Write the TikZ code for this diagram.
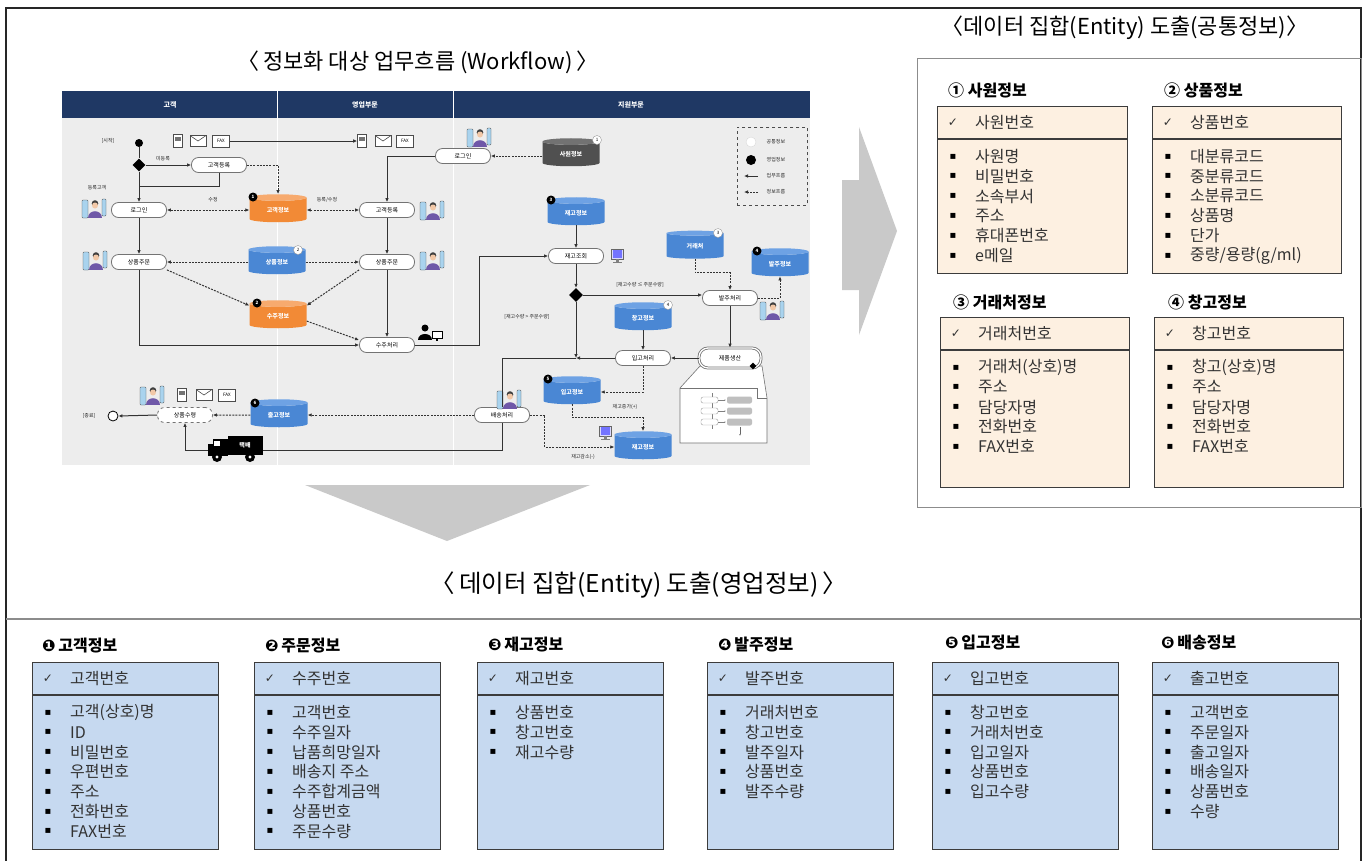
\documentclass[tikz,border=0pt]{standalone}
\usepackage{fontspec}
\setmainfont{Noto Sans CJK KR}
\newfontfamily\symfont{DejaVu Sans}
\usetikzlibrary{shapes.geometric,arrows.meta,calc}

\definecolor{navy}{HTML}{1F3864}
\definecolor{wfbg}{HTML}{EDEDED}
\definecolor{peach}{HTML}{FDF0E1}
\definecolor{skyfill}{HTML}{C6D9F0}
\definecolor{boxline}{HTML}{3C3C3C}
\definecolor{arrowgray}{HTML}{C9C9C9}
\definecolor{dbblue}{HTML}{4A87D4}
\definecolor{dbbluetop}{HTML}{6EA2E4}
\definecolor{dborange}{HTML}{F28A36}
\definecolor{dborangetop}{HTML}{F7AA6E}
\definecolor{dbgray}{HTML}{505050}
\definecolor{dbgraytop}{HTML}{727272}
\definecolor{skin}{HTML}{F1C8A8}
\definecolor{shirt}{HTML}{6F58A8}
\definecolor{tabcol}{HTML}{A9D3EE}
\definecolor{itemtext}{HTML}{333333}

\newcommand\wffont{\fontsize{6}{7}\selectfont}
\newcommand\wfsmall{\fontsize{5}{6}\selectfont}
\newcommand\entlabelfont{\fontsize{16}{19}\selectfont\bfseries}
\newcommand\entitemfont{\fontsize{16}{19}\selectfont}

\tikzset{
  wire/.style={draw=black!80, line width=1pt, >={Latex[length=4pt,width=3.6pt]}},
  dashwire/.style={wire, dash pattern=on 2pt off 1.2pt},
  proc/.style={draw=black!55, fill=white, rounded corners=7pt, minimum width=55pt,
    minimum height=15pt, inner sep=0pt, font=\wffont, line width=0.8pt},
  db/.style={cylinder, shape border rotate=90, aspect=0.3, minimum width=57pt,
    minimum height=28pt, inner sep=0pt, cylinder uses custom fill, text=white,
    font=\wffont\bfseries},
  dbBlue/.style={db, cylinder body fill=dbblue, cylinder end fill=dbbluetop},
  dbOrange/.style={db, cylinder body fill=dborange, cylinder end fill=dborangetop},
  dbGray/.style={db, cylinder body fill=dbgray, cylinder end fill=dbgraytop},
  badgeB/.style={circle, fill=black, text=white, inner sep=0pt, minimum size=9pt,
    font=\fontsize{4.5}{5}\selectfont\bfseries},
  badgeW/.style={circle, fill=white, draw=black!40, text=black, inner sep=0pt,
    minimum size=9pt, font=\fontsize{4.5}{5}\selectfont},
  wflabel/.style={font=\wfsmall, inner sep=0.5pt, text=black!85},
  hdrtxt/.style={font=\fontsize{7}{8}\selectfont\bfseries, text=white},
  phone/.style={draw=black!70, fill=white, minimum width=9pt, minimum height=13pt,
    inner sep=0pt, line width=0.6pt,
    path picture={\fill[black!55] ([shift={(1.8pt,-2pt)}]path picture bounding box.north west)
      rectangle ([shift={(-1.8pt,-6pt)}]path picture bounding box.north east);}},
  mail/.style={draw=black!70, fill=white, minimum width=16pt, minimum height=11pt,
    inner sep=0pt, line width=0.6pt,
    path picture={\draw[black!70, line width=0.6pt] (path picture bounding box.north west)
      -- (path picture bounding box.center) -- (path picture bounding box.north east);}},
  fax/.style={draw=black!70, fill=white, minimum width=17pt, minimum height=12pt,
    inner sep=0pt, line width=0.6pt, font=\fontsize{4.5}{5}\selectfont},
  entbox/.style={draw=boxline, line width=1.3pt, inner sep=0pt},
  entline/.style={draw=boxline, line width=1.3pt},
  entcheck/.style={font=\symfont\fontsize{12}{14}\selectfont, inner sep=0pt, text=itemtext},
  entbullet/.style={font=\symfont\fontsize{10}{12}\selectfont, inner sep=0pt, text=black},
  entkey/.style={anchor=west, font=\entitemfont, inner sep=0pt, text=itemtext},
  entitem/.style={anchor=west, font=\entitemfont, inner sep=0pt, text=itemtext},
  entlabel/.style={anchor=west, font=\entlabelfont, inner sep=0pt},
  usericon/.pic={
    \draw[black!70, fill=tabcol, line width=0.4pt, rounded corners=0.8pt] (-12,-8) rectangle (-6,10);
    \fill[shirt] (-6,10) .. controls (-6,1) and (8,1) .. (8,10) -- cycle;
    \fill[black!75] (1,-4.5) circle (3.3);
    \fill[skin] (1,-2.5) circle (3);
    \draw[black!70, fill=tabcol, line width=0.4pt, rounded corners=0.8pt] (8,-9) rectangle (12,8);
  },
  pcuser/.pic={
    \fill[black] (-4,-6) circle (3.5);
    \fill[black] (-11,6) .. controls (-11,-2) and (3,-2) .. (3,6) -- cycle;
    \draw[black, line width=0.8pt, fill=white] (3,-3) rectangle (13,4);
    \fill[black] (7,4) rectangle (9,7);
  },
  computer/.pic={
    \draw[black!60, fill=blue!15, line width=0.4pt] (-6,-6) rectangle (6,4);
    \fill[blue!55] (-4.5,-4.6) rectangle (4.5,2.6);
    \fill[black!50] (-1.5,4) rectangle (1.5,6.5);
    \fill[black!50] (-4.5,6.5) rectangle (4.5,7.5);
  },
}

% one entity table: name, left, top, width, height, fill, key attribute, attributes
\newcommand\entitybox[8]{%
  \node[entbox, fill=#6, minimum width=#4pt, minimum height=#5pt, anchor=north west] (#1) at (#2,#3) {};
  \draw[entline] ($(#1.north west)+(0,33)$) -- ($(#1.north east)+(0,33)$);
  \node[entcheck] (#1-chk) at ({#2+16},{#3+16.5}) {✓};
  \node[entkey] (#1-key) at ({#2+38},{#3+16.5}) {#7};
  \foreach \etxt [count=\ei] in {#8} {%
    \node[entbullet] (#1-b\ei) at ({#2+16},{#3+50.5+(\ei-1)*19.8}) {▪};
    \node[entitem] (#1-t\ei) at ({#2+38},{#3+50.5+(\ei-1)*19.8}) {\etxt};
  }%
}

\begin{document}
\begin{tikzpicture}[x=1pt,y=-1pt]
\useasboundingbox (0,0) rectangle (1367,860);
\fill[white] (0,0) rectangle (1367,860);

% outer frame, common-entity panel and section rule
\draw[black!85, line width=1.2pt] (6,862) -- (6,8) -- (1361,8) -- (1361,862);
\draw[black!45, line width=1pt] (917,58) rectangle (1361,507);
\draw[black!45, line width=1.6pt] (6,619) -- (1361,619);

% titles
\node[font=\fontsize{22}{26}\selectfont] (wftitle) at (418,62) {〈\,정보화 대상 업무흐름 (Workflow)\,〉};
\node[font=\fontsize{22}{26}\selectfont] (comtitle) at (1125,28) {〈데이터 집합(Entity) 도출(공통정보)〉};
\node[font=\fontsize{24.5}{28}\selectfont] (saltitle) at (639,585) {〈\,데이터 집합(Entity) 도출(영업정보)\,〉};

% big gray arrows
\fill[arrowgray] (305,485) -- (590,485) -- (447,541) -- cycle;
\fill[arrowgray] (842,180) -- (859,180) -- (859,127) -- (897,231) -- (859,335) -- (859,290) -- (842,290) -- cycle;

% ---------------- workflow ----------------
\fill[navy] (62,91) rectangle (810,118);
\fill[wfbg] (62,118) rectangle (810,465);
\draw[white, line width=0.8pt] (277,91) -- (277,465);
\draw[white, line width=0.8pt] (453,91) -- (453,465);
\node[hdrtxt] (colA) at (170,104.5) {고객};
\node[hdrtxt] (colB) at (365,104.5) {영업부문};
\node[hdrtxt] (colC) at (631,104.5) {지원부문};

% legend
\node[draw=black!70, dashed, line width=0.7pt, fill=wfbg, minimum width=70pt, minimum height=78pt,
  anchor=north west, inner sep=0pt] (legend) at (737,127) {};
\node[circle, fill=white, draw=black!15, minimum size=10pt, inner sep=0pt] (lgA) at (751,142) {};
\node[circle, fill=black, minimum size=10pt, inner sep=0pt] (lgB) at (751,160) {};
\coordinate (lgC1) at (758,176); \coordinate (lgC2) at (744,176);
\coordinate (lgD1) at (758,192); \coordinate (lgD2) at (744,192);
\draw[wire,->] (lgC1) -- (lgC2);
\draw[dashwire,->] (lgD1) -- (lgD2);
\node[wflabel, anchor=west] (lgAt) at (766,142) {공통정보};
\node[wflabel, anchor=west] (lgBt) at (766,160) {영업정보};
\node[wflabel, anchor=west] (lgCt) at (766,176) {업무흐름};
\node[wflabel, anchor=west] (lgDt) at (766,192) {정보흐름};

% callout with the production sub-flow
\draw[black!55, fill=white, line width=0.6pt] (680,388) -- (700,366) -- (762,366) -- (767,398)
  -- (767,443) -- (680,443) -- cycle;
\draw[black!55, line width=0.6pt] (680,388) -- (757,388) -- (757,398) -- (767,398);
\draw[black!50, line width=0.4pt] (712,393) -- (712,429);
\foreach \yy in {400,411,422} {
  \draw[black!40, fill=white, line width=0.4pt, rounded corners=2pt] (701,{\yy-3}) rectangle (718,{\yy+3});
  \fill[black!25, rounded corners=2pt] (727,{\yy-3.5}) rectangle (752,{\yy+3.5});
  \draw[black!50, line width=0.4pt, -{Latex[length=1.5pt]}] (718,\yy) -- (726,\yy);
}
\draw[black!60, line width=0.5pt, -{Latex[length=2pt]}] (740,427) -- (740,436);

% start / end
\node[circle, fill=black, minimum size=8pt, inner sep=0pt] (start) at (139,143) {};
\node[wflabel] (startlbl) at (108,141) {[시작]};
\node[circle, draw=black, line width=0.8pt, fill=white, minimum size=10pt, inner sep=0pt,
  path picture={\fill (path picture bounding box.center) circle (2.8pt);}] (endpt) at (113,416) {};
\node[wflabel] (endlbl) at (89,416) {[종료]};

% decision points
\node[diamond, fill=black, minimum size=13pt, inner sep=0pt] (d1) at (139,165) {};
\node[diamond, fill=black, minimum size=14pt, inner sep=0pt] (d2) at (576,295) {};
\coordinate (join) at (576,358);
\coordinate (merge1) at (139,186);

% channel icons
\node[phone] (ph1) at (178,141) {};
\node[mail] (ml1) at (198,141) {};
\node[fax] (fx1) at (221,141) {FAX};
\node[phone] (ph2) at (362,141) {};
\node[mail] (ml2) at (383,141) {};
\node[fax] (fx2) at (405,141) {FAX};
\node[phone] (ph3) at (182,395) {};
\node[mail] (ml3) at (204,395) {};
\node[fax] (fx3) at (227,395) {FAX};

% process steps
\node[proc] (reg1) at (219,165) {고객등록};
\node[proc] (login1) at (139,210) {로그인};
\node[proc] (reg2) at (387,210) {고객등록};
\node[proc] (order1) at (139,262) {상품주문};
\node[proc] (order2) at (387,262) {상품주문};
\node[proc] (recv) at (387,345) {수주처리};
\node[proc] (login2) at (463,156) {로그인};
\node[proc] (check) at (576,256) {재고조회};
\node[proc] (purch) at (730,298) {발주처리};
\node[proc, double=white, double distance=1.3pt, minimum width=62pt, minimum height=20pt,
  rounded corners=9pt] (make) at (730,358) {제품생산};
\node[diamond, fill=black, minimum size=7pt, inner sep=0pt] (makemark) at (753,366) {};
\node[proc] (inproc) at (643,358) {입고처리};
\node[proc] (ship) at (502,415) {배송처리};
\node[proc, dashed] (take) at (185,415) {상품수령};

% data stores
\node[dbOrange] (cust) at (278,210) {고객정보};
\node[dbBlue] (prod) at (277,262) {상품정보};
\node[dbOrange] (sord) at (278,316) {수주정보};
\node[dbGray] (emp) at (571,154) {사원정보};
\node[dbBlue] (stock1) at (576,213) {재고정보};
\node[dbBlue] (vend) at (695,246) {거래처};
\node[dbBlue] (po) at (780,264) {발주정보};
\node[dbBlue] (whs) at (643,318) {창고정보};
\node[dbBlue] (inb) at (572,392) {입고정보};
\node[dbBlue] (stock2) at (643,447) {재고정보};
\node[dbBlue] (outb) at (279,415) {출고정보};

\node[badgeB] (bcust) at (253,197) {1};
\node[badgeW] (bprod) at (298,250) {2};
\node[badgeB] (bsord) at (257,303) {2};
\node[badgeW] (bemp) at (597,140) {1};
\node[badgeB] (bst1) at (551,200) {3};
\node[badgeW] (bvend) at (718,233) {3};
\node[badgeB] (bpo) at (757,251) {4};
\node[badgeW] (bwhs) at (668,305) {4};
\node[badgeB] (binb) at (548,379) {5};
\node[badgeB] (boutb) at (255,403) {6};

% people and devices
\pic at (94,208) {usericon};
\pic at (95,260) {usericon};
\pic at (432,210) {usericon};
\pic at (432,260) {usericon};
\pic at (479,137) {usericon};
\pic at (509,399) {usericon};
\pic at (772,310) {usericon};
\pic at (152,395) {usericon};
\pic at (429,334) {pcuser};
\pic at (617,255) {computer};
\pic at (605,432) {computer};

% labels
\node[wflabel] (lblnew) at (163,159) {미등록};
\node[wflabel] (lblreg) at (97,188) {등록고객};
\node[wflabel] (lblmod) at (213,200) {수정};
\node[wflabel] (lblregmod) at (327,200) {등록/수정};
\node[wflabel] (lblle) at (640,285) {[재고수량 ≤ 주문수량]};
\node[wflabel] (lblgt) at (527,317) {[재고수량 > 주문수량]};
\node[wflabel] (lblinc) at (625,407) {재고증가(+)};
\node[wflabel] (lbldec) at (583,457) {재고감소(-)};

% business flow
\draw[wire] (start) -- (d1);
\draw[wire,->] (fx1) -- (ph2);
\draw[wire,->] (d1) -- (reg1);
\draw[wire] (reg1.south) |- (merge1);
\draw[wire,->] (d1) -- (login1);
\draw[wire,->] (login2.west) -| (reg2.north);
\draw[wire,->] (login1) -- (order1);
\draw[wire,->] (reg2) -- (order2);
\draw[wire,->] (order1.south) |- (recv.west);
\draw[wire,->] (order2) -- (recv);
\draw[wire,->] (recv.east) -- ++(65,0) |- (check.west);
\draw[wire,->] (stock1) -- (check);
\draw[wire,->] (check) -- (d2);
\draw[wire,->] (d2.east) -- (d2.east -| purch.west);
\draw[wire,->] (d2) -- (join);
\draw[wire,->] (purch) -- (make);
\draw[wire,->] (make) -- (inproc);
\draw[wire,->] (whs) -- (inproc);
\draw[wire,->] (inproc) -- (join);
\draw[wire] (join) -| (ship.north);
\draw[wire,->] (ship.south) -- ++(0,27.5) -| (take.south);
\draw[wire,->] (take.west) -- (endpt.east);

% information flow
\draw[dashwire,->] (reg1.east) -| (cust.north);
\draw[dashwire,<->] (login1.east) -- (login1.east -| cust.west);
\draw[dashwire,<->] (cust.east) -- (cust.east -| reg2.west);
\draw[dashwire,->] (emp.west |- login2.east) -- (login2.east);
\draw[dashwire,->] (prod.west |- order1.east) -- (order1.east);
\draw[dashwire,->] (prod.east |- order2.west) -- (order2.west);
\draw[dashwire,->] (order1.south east) -- (sord.160);
\draw[dashwire,->] (order2.south west) -- (sord.20);
\draw[dashwire,->] (sord.-10) -- (recv.170);
\draw[dashwire,->] (vend.south) -- ++(0,14) -| (purch.north);
\draw[dashwire,->] (purch.east) -| (po.south);
\draw[dashwire,->] (inproc.south) |- (inb.east);
\draw[dashwire,->] (inb.south) -- ++(0,13) -| (stock2.north);
\draw[dashwire,->] (ship.east) -- ++(15,0) |- (stock2.west);
\draw[dashwire,->] (ship.west) -- (ship.west -| outb.east);
\draw[dashwire,->] (outb.west) -- (take.east);

% delivery truck
\node[fill=black, text=white, font=\wffont\bfseries, minimum width=35pt, minimum height=19pt,
  inner sep=0pt] (truck) at (245,445) {택배};
\fill[black] (208,444) rectangle (228,456);
\fill[black] (213,439) rectangle (228,444);
\fill[white] (214,441) rectangle (220,446);
\fill[black] (217,457) circle (5);
\fill[white] (217,457) circle (1.6);
\fill[black] (250,457) circle (5);
\fill[white] (250,457) circle (1.6);

% ---------------- common entities ----------------
\node[entlabel] (lab1) at (948,90) {① 사원정보};
\node[entlabel] (lab2) at (1164,90) {② 상품정보};
\node[entlabel] (lab3) at (953,302) {③ 거래처정보};
\node[entlabel] (lab4) at (1168,302) {④ 창고정보};
\entitybox{sawon}{937}{106}{190}{167}{peach}{사원번호}{사원명,비밀번호,소속부서,주소,휴대폰번호,e메일}
\entitybox{sangpum}{1152}{106}{189}{167}{peach}{상품번호}{대분류코드,중분류코드,소분류코드,상품명,단가,{중량/용량(g/ml)}}
\entitybox{georae}{940}{317}{189}{170}{peach}{거래처번호}{거래처(상호)명,주소,담당자명,전화번호,FAX번호}
\entitybox{changgo}{1154}{317}{189}{170}{peach}{창고번호}{창고(상호)명,주소,담당자명,전화번호,FAX번호}

% ---------------- sales entities ----------------
\node[entlabel] (slab1) at (42,646) {{\symfont ❶}\,고객정보};
\node[entlabel] (slab2) at (265,646) {{\symfont ❷}\,주문정보};
\node[entlabel] (slab3) at (488,645) {{\symfont ❸}\,재고정보};
\node[entlabel] (slab4) at (718,645) {{\symfont ❹}\,발주정보};
\node[entlabel] (slab5) at (945,643) {{\symfont ❺}\,입고정보};
\node[entlabel] (slab6) at (1161,643) {{\symfont ❻}\,배송정보};
\entitybox{gogaek}{32}{662}{186}{187}{skyfill}{고객번호}{고객(상호)명,ID,비밀번호,우편번호,주소,전화번호,FAX번호}
\entitybox{jumun}{254}{662}{186}{187}{skyfill}{수주번호}{고객번호,수주일자,납품희망일자,배송지 주소,수주합계금액,상품번호,주문수량}
\entitybox{jaego}{477}{662}{186}{187}{skyfill}{재고번호}{상품번호,창고번호,재고수량}
\entitybox{balju}{707}{662}{186}{187}{skyfill}{발주번호}{거래처번호,창고번호,발주일자,상품번호,발주수량}
\entitybox{ipgo}{932}{662}{186}{187}{skyfill}{입고번호}{창고번호,거래처번호,입고일자,상품번호,입고수량}
\entitybox{baesong}{1152}{662}{186}{187}{skyfill}{출고번호}{고객번호,주문일자,출고일자,배송일자,상품번호,수량}
\end{tikzpicture}
\end{document}
